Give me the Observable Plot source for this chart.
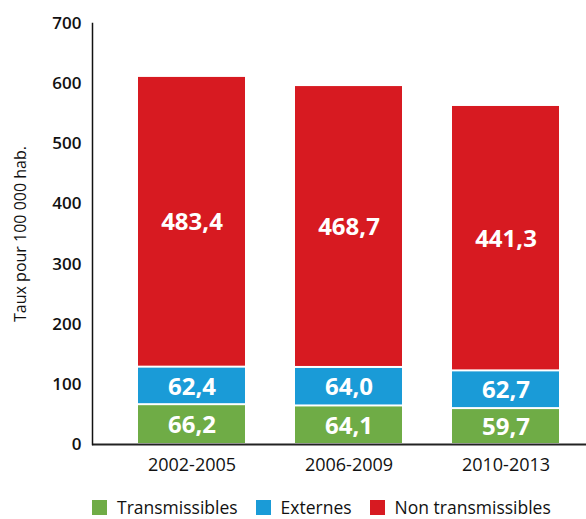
<!DOCTYPE html>
<html>
<head>
<meta charset="utf-8">
<script src="https://cdn.jsdelivr.net/npm/d3@7"></script>
<script src="https://cdn.jsdelivr.net/npm/@observablehq/plot@0.6"></script>
<style>
  html, body { margin: 0; padding: 0; background: #fff; }
  body { width: 586px; height: 519px; overflow: hidden; font-family: "Open Sans", "Noto Sans", sans-serif; position: relative; }
  #legend { position: absolute; top: 497px; left: 92px; height: 20px; line-height: 20px; display: flex; align-items: center; font-size: 17.5px; color: #111; white-space: nowrap; }
  .item { display: flex; align-items: center; margin-right: 18px; }
  .sw { width: 15px; height: 15px; margin-right: 10px; }
</style>
</head>
<body>
<div id="chart"></div>
<div id="legend"></div>
<script>
const periods = ["2002-2005", "2006-2009", "2010-2013"];
const seriesNames = ["Transmissibles", "Externes", "Non transmissibles"];
const seriesColors = ["#6fac46", "#1a9bd7", "#d71a21"];
const transmissibles = [66.2, 64.1, 59.7];
const externes = [62.4, 64.0, 62.7];
const nonTransmissibles = [483.4, 468.7, 441.3];
const yTicks = [0, 100, 200, 300, 400, 500, 600, 700];

const seriesValues = [transmissibles, externes, nonTransmissibles];
const data = [];
seriesNames.forEach((s, si) => {
  periods.forEach((p, pi) => data.push({period: p, series: s, value: seriesValues[si][pi]}));
});
const fmt = d => d.toFixed(1).replace(".", ",");

const chart = Plot.plot({
  width: 586,
  height: 480,
  marginLeft: 92,
  marginRight: 0,
  marginTop: 23,
  marginBottom: 36,
  style: {fontFamily: "'Open Sans', 'Noto Sans', sans-serif", color: "#111", background: "#fff"},
  x: {domain: periods, paddingInner: 0.32, paddingOuter: 0.228, align: 0.626, label: null},
  y: {domain: [0, 700], label: null},
  color: {domain: seriesNames, range: seriesColors},
  marks: [
    Plot.barY(data, Plot.stackY({x: "period", y: "value", fill: "series", insetTop: 1, insetBottom: 1})),
    Plot.text(data, Plot.stackY({x: "period", y: "value", z: "series", text: d => fmt(d.value), fill: "white", fontSize: 24, fontWeight: "bold", dy: 1})),
    Plot.axisY({ticks: yTicks, tickSize: 0, tickPadding: 11, fontSize: 17, fontWeight: 600, label: null}),
    Plot.axisX({tickSize: 0, tickPadding: 14, fontSize: 18, fontWeight: 500, label: null}),
    Plot.ruleY([0], {stroke: "#222", strokeWidth: 2}),
    Plot.frame({anchor: "left", stroke: "#111", strokeWidth: 1.5}),
    Plot.text(["Taux pour 100 000 hab."], {frameAnchor: "left", textAnchor: "middle", dx: -72, rotate: -90, fontSize: 16, fill: "#111"})
  ]
});
document.getElementById("chart").appendChild(chart);

const legend = document.getElementById("legend");
seriesNames.forEach((s, i) => {
  const it = document.createElement("div");
  it.className = "item";
  const sw = document.createElement("div");
  sw.className = "sw";
  sw.style.background = seriesColors[i];
  const t = document.createElement("span");
  t.textContent = s;
  it.appendChild(sw); it.appendChild(t);
  legend.appendChild(it);
});
</script>
</body>
</html>
